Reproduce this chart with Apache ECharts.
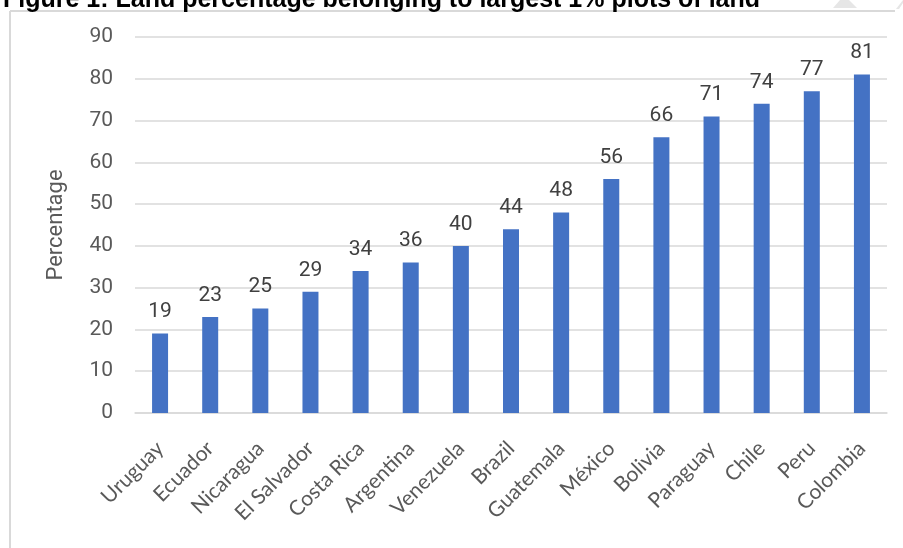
<!DOCTYPE html>
<html><head><meta charset="utf-8">
<script src="https://cdn.jsdelivr.net/npm/echarts@6/dist/echarts.min.js"></script>
<style>html,body{margin:0;padding:0;background:#fff;}#c{width:903px;height:548px;}</style>
</head><body><div id="c"></div>
<script>
const titleText = "Figure 1: Land percentage belonging to largest 1% plots of land";
const countries = ["Uruguay","Ecuador","Nicaragua","El Salvador","Costa Rica","Argentina","Venezuela","Brazil","Guatemala","México","Bolivia","Paraguay","Chile","Peru","Colombia"];
const percentages = [19,23,25,29,34,36,40,44,48,56,66,71,74,77,81];
const yAxisName = "Percentage";

const chart = echarts.init(document.getElementById('c'), null, {renderer:'canvas'});
chart.setOption({
  animation:false,
  backgroundColor:'#fff',
  graphic:[
    {type:'line', shape:{x1:10,y1:11,x2:895,y2:11}, style:{stroke:'#d9d9d9',lineWidth:2}},
    {type:'line', shape:{x1:10,y1:11,x2:10,y2:548}, style:{stroke:'#d9d9d9',lineWidth:2}},
    {type:'polygon', shape:{points:[[833,8],[857,8],[849,0],[840,0]]}, style:{fill:'#e6e6e6'}},
    {type:'polygon', shape:{points:[[896,9],[903,0],[903,3],[899,9]]}, style:{fill:'#e6e6e6'}},
    {type:'text', x:3, y:13, style:{text:titleText, font:'bold 25px "Liberation Sans", Arial, sans-serif', fill:'#000', verticalAlign:'bottom'}}
  ],
  grid:{left:135, right:16, top:37, bottom:135, containLabel:false},
  xAxis:{
    type:'category', data:countries,
    axisTick:{show:false},
    axisLine:{lineStyle:{color:'#d9d9d9', width:1.5}},
    axisLabel:{rotate:45, fontSize:21, fontFamily:'Lato, sans-serif', color:'#595959', margin:32, interval:0}
  },
  yAxis:{
    type:'value', min:0, max:90, interval:10,
    name:yAxisName, nameLocation:'middle', nameGap:68, nameRotate:90,
    nameTextStyle:{fontSize:22, fontFamily:'Roboto, sans-serif', color:'#595959'},
    axisLabel:{fontSize:21, fontFamily:'Roboto, sans-serif', color:'#595959', margin:22},
    splitLine:{lineStyle:{color:'#d9d9d9', width:1.5}},
    axisLine:{show:false}, axisTick:{show:false}
  },
  series:[{
    type:'bar', data:percentages, barWidth:16,
    itemStyle:{color:'#4472c4'},
    label:{show:true, position:'top', distance:11, fontSize:21, fontFamily:'Roboto, sans-serif', color:'#404040'}
  }]
});
</script></body></html>
